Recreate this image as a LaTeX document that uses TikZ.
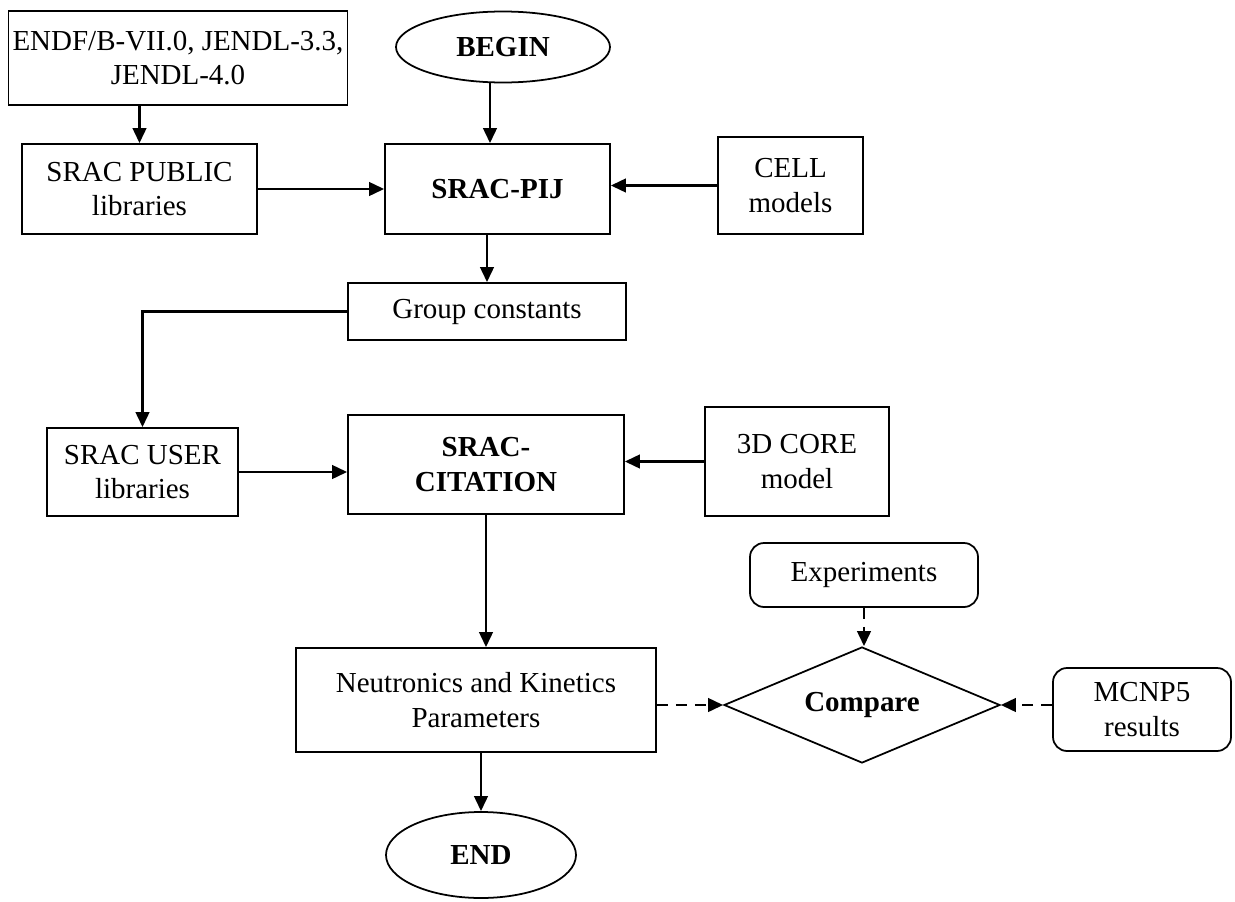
\documentclass[tikz,border=0pt]{standalone}
\usepackage{fontspec}
\setmainfont{Liberation Serif}
\usepackage{tikz}
\usetikzlibrary{shapes.geometric, arrows.meta, positioning, calc}

\begin{document}
\begin{tikzpicture}[
  font=\fontsize{16.5}{19.5}\selectfont,
  flowbox/.style={draw, line width=1pt, align=center, inner sep=2pt},
  softbox/.style={flowbox, rounded corners=8pt},
  termbox/.style={draw, line width=1pt, ellipse, inner sep=0pt, font=\fontsize{16.5}{19.5}\selectfont\bfseries},
  decbox/.style={draw, line width=1pt, diamond, aspect=2.4, inner sep=0pt, font=\fontsize{16.5}{19.5}\selectfont\bfseries},
  flow/.style={-{Triangle[length=0.3cm, width=0.27cm]}, line width=1.5pt},
  dflow/.style={flow, dash pattern=on 0.22cm off 0.16cm}
]
  \useasboundingbox (0,0) rectangle (24.7,-18.04);

  % Cross-section stage
  \node[flowbox, minimum width=6.78cm, minimum height=1.88cm] (endf) at (3.56,-1.16) {ENDF/B-VII.0, JENDL-3.3,\\JENDL-4.0};
  \node[flowbox, minimum width=4.70cm, minimum height=1.80cm] (public) at (2.79,-3.78) {SRAC PUBLIC\\libraries};
  \node[termbox, minimum width=4.28cm, minimum height=1.42cm] (begin) at (10.06,-0.94) {BEGIN};
  \node[flowbox, minimum width=4.50cm, minimum height=1.80cm, font=\fontsize{16.5}{19.5}\selectfont\bfseries] (pij) at (9.95,-3.78) {SRAC-PIJ};
  \node[flowbox, minimum width=2.90cm, minimum height=1.94cm] (cell) at (15.81,-3.71) {CELL\\models};
  \node[flowbox, minimum width=5.56cm, minimum height=1.14cm] (group) at (9.74,-6.23) {Group constants};

  % Core stage
  \node[flowbox, minimum width=3.82cm, minimum height=1.76cm] (user) at (2.85,-9.44) {SRAC USER\\libraries};
  \node[flowbox, minimum width=5.52cm, minimum height=1.98cm, font=\fontsize{16.5}{19.5}\selectfont\bfseries] (cit) at (9.72,-9.29) {SRAC-\\CITATION};
  \node[flowbox, minimum width=3.68cm, minimum height=2.18cm] (core) at (15.94,-9.23) {3D CORE\\model};
  \node[flowbox, minimum width=7.20cm, minimum height=2.08cm] (nk) at (9.52,-14.0) {Neutronics and Kinetics\\Parameters};
  \node[termbox, minimum width=3.80cm, minimum height=1.72cm] (end) at (9.62,-17.10) {END};

  % Validation
  \node[softbox, minimum width=4.56cm, minimum height=1.28cm] (exp) at (17.28,-11.5) {Experiments};
  \node[decbox, minimum width=5.52cm, minimum height=2.32cm] (cmp) at (17.24,-14.10) {Compare};
  \node[softbox, minimum width=3.56cm, minimum height=1.66cm] (mcnp) at (22.84,-14.19) {MCNP5\\results};

  \draw[flow] (public.north |- endf.south) -- (public.north);
  \draw[flow] ($(begin.south)+(-0.26,0)$) -- ($(begin.south |- pij.north)+(-0.26,0)$);
  \draw[flow] (public.east) -- (public.east -| pij.west);
  \draw[flow] (cell.west) -- (cell.west -| pij.east);
  \draw[flow] (pij.south -| group.north) -- (group.north);
  \draw[flow] (group.west) -| (user.north);
  \draw[flow] (user.east) -- (user.east -| cit.west);
  \draw[flow] (core.west) -- (core.west -| cit.east);
  \draw[flow] (cit.south) -- (cit.south |- nk.north);
  \draw[flow] (end.north |- nk.south) -- (end.north);

  \draw[dflow] (nk.east |- cmp.west) -- (cmp.west);
  \draw[dflow] (mcnp.west |- cmp.east) -- (cmp.east);
  \draw[dflow] (exp.south) -- (exp.south |- cmp.north);
\end{tikzpicture}
\end{document}
